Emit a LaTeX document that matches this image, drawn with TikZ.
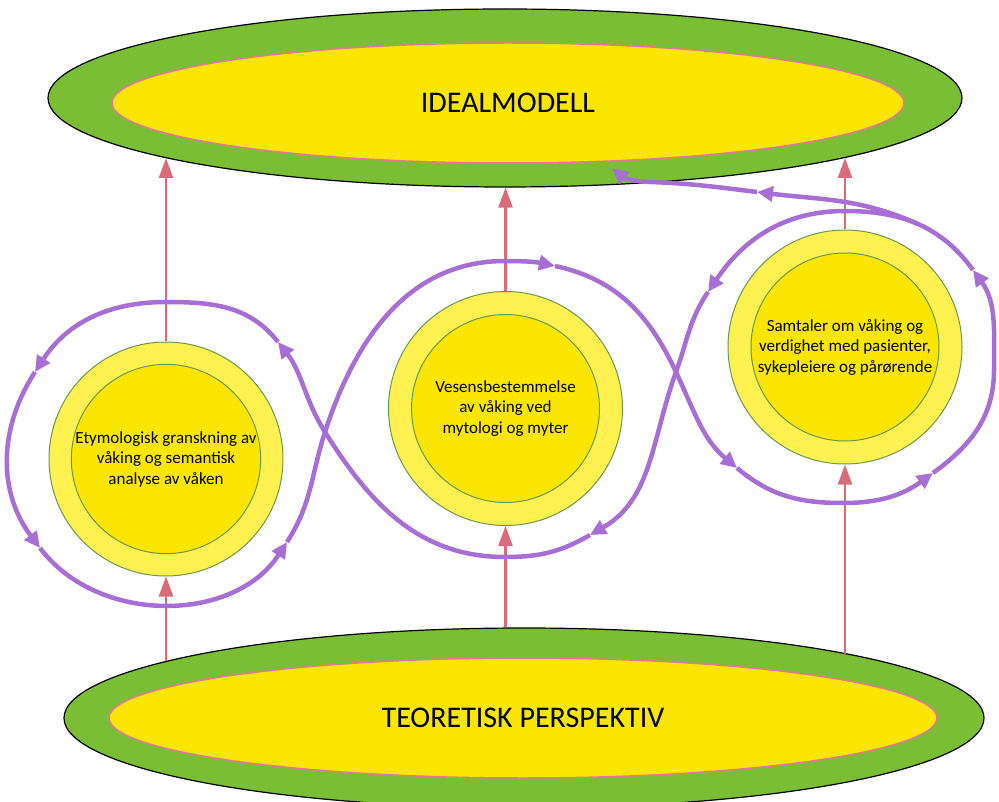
\documentclass[tikz,border=0pt]{standalone}
\usepackage{fontspec}
\setmainfont{Carlito}
\usetikzlibrary{arrows.meta,shapes.geometric}
\definecolor{ringgreen}{RGB}{121,190,52}
\definecolor{coreyellow}{RGB}{250,230,0}
\definecolor{ringyellow}{RGB}{255,241,80}
\definecolor{circedge}{RGB}{108,150,80}
\definecolor{edgepink}{RGB}{228,120,150}
\definecolor{arrowred}{RGB}{218,108,122}
\definecolor{loopviolet}{RGB}{167,110,214}

\begin{document}
\begin{tikzpicture}[x=1pt,y=-1pt,
	outerell/.style={ellipse,draw=black,line width=1.2pt,fill=ringgreen,inner sep=0pt},
	innerell/.style={ellipse,draw=edgepink,line width=1.5pt,fill=coreyellow,inner sep=0pt,font=\fontsize{30}{35}\selectfont},
	ringcirc/.style={circle,draw=circedge,line width=1pt,fill=ringyellow,minimum size=234pt,inner sep=0pt},
	corecirc/.style={circle,draw=circedge,line width=1pt,fill=coreyellow,minimum size=188pt,inner sep=0pt,align=center,font=\fontsize{17}{20.5}\selectfont},
	uparrow/.style={draw=arrowred,line width=2.5pt,-{Triangle[length=20pt,width=14pt]}},
	loopline/.style={draw=loopviolet,line width=4.5pt,-{Triangle[length=16pt,width=15pt]}}]
	\useasboundingbox (0,0) rectangle (999,802);
	\node[outerell,minimum width=914pt,minimum height=178pt] (idealO) at (505,98) {};
	\node[innerell,minimum width=792pt,minimum height=120pt] (ideal) at (508,103) {IDEALMODELL};
	\node[outerell,minimum width=920pt,minimum height=180pt] (teoO) at (524,718) {};
	\node[innerell,minimum width=828pt,minimum height=120pt] (teo) at (523,718) {TEORETISK PERSPEKTIV};
	\node[ringcirc] (etyO) at (166,459) {};
	\node[ringcirc] (vesO) at (505.5,408.5) {};
	\node[ringcirc] (samO) at (845,347) {};
	\draw[uparrow] (etyO.south |- teoO.171) -- (etyO.south);
	\draw[uparrow] (vesO.south |- teoO.north) -- (vesO.south);
	\draw[uparrow] (samO.south |- teoO.11.4) -- (samO.south);
	\draw[uparrow] (etyO.north) -- (etyO.north |- idealO.190);
	\draw[uparrow] (vesO.north) -- (vesO.north |- idealO.south);
	\draw[uparrow] (samO.north) -- (samO.north |- idealO.350);
	\node[corecirc] (ety) at (etyO) {Etymologisk granskning av\\våking og semantisk\\analyse av våken};
	\node[corecirc] (ves) at (vesO) {Vesensbestemmelse\\av våking ved\\mytologi og myter};
	\node[corecirc] (sam) at (samO) {Samtaler om våking og\\verdighet med pasienter,\\sykepleiere og pårørende};
	\coordinate (lt) at (166,302);
	\coordinate (a1) at (35,372);
	\coordinate (a2) at (40,548);
	\coordinate (a3) at (287,542);
	\coordinate (x1) at (325,432);
	\coordinate (mt) at (505,261);
	\coordinate (a4) at (555,266);
	\coordinate (x2) at (676,372);
	\coordinate (a5) at (737,468);
	\coordinate (rb) at (843,503);
	\coordinate (a6) at (933,473);
	\coordinate (re) at (994,370);
	\coordinate (a7) at (973,270);
	\coordinate (rt) at (845,211);
	\coordinate (a8) at (708,292);
	\coordinate (a9) at (590,535);
	\coordinate (mb) at (505,557);
	\coordinate (a10) at (278,342);
	\coordinate (fork) at (918,224);
	\coordinate (a11) at (757,192);
	\coordinate (hook) at (650,182);
	\coordinate (tip) at (612,168);
	\draw[loopline] (a10) to[out=128,in=0] (lt) to[out=180,in=57] (a1);
	\draw[loopline] (a1) to[out=237,in=127] (a2);
	\draw[loopline] (a2) to[out=307,in=237] (a3);
	\draw[loopline] (a3) to[out=57,in=252] (x1) to[out=72,in=180] (mt) to[out=0,in=168] (a4);
	\draw[loopline] (a4) to[out=348,in=115] (x2) to[out=295,in=140] (a5);
	\draw[loopline] (a5) to[out=320,in=180] (rb) to[out=0,in=216] (a6);
	\draw[loopline] (a6) to[out=36,in=270] (re) to[out=90,in=306] (a7);
	\draw[loopline] (a7) to[out=126,in=0] (rt) to[out=180,in=56] (a8);
	\draw[loopline] (a8) to[out=236,in=70] (x2) to[out=250,in=30] (a9);
	\draw[loopline] (a9) to[out=210,in=0] (mb) to[out=180,in=302] (x1) to[out=122,in=308] (a10);
	\draw[loopline] (fork) to[out=156,in=353] (a11);
	\draw[loopline] (a11) to[out=173,in=358] (hook) to[out=178,in=320] (tip);
\end{tikzpicture}
\end{document}
